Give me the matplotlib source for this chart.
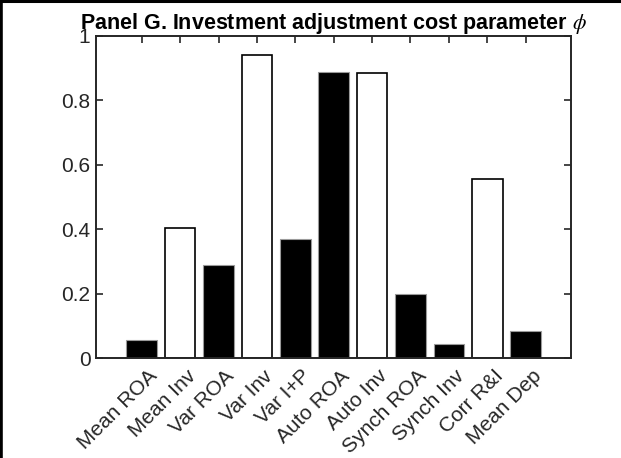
import numpy as np
import matplotlib
matplotlib.use("Agg")
import matplotlib.pyplot as plt
import matplotlib.transforms as mtransforms
from matplotlib.lines import Line2D

plt.rcParams['font.family'] = ['Liberation Sans', 'DejaVu Sans']
plt.rcParams['mathtext.fontset'] = 'stix'

# moments targeted, sensitivity of each to phi
labels = ['Mean ROA', 'Mean Inv', 'Var ROA', 'Var Inv', 'Var I+P', 'Auto ROA',
          'Auto Inv', 'Synch ROA', 'Synch Inv', 'Corr R&I', 'Mean Dep']
values = [0.055, 0.405, 0.289, 0.941, 0.370, 0.887, 0.884, 0.199, 0.043, 0.555, 0.084]
# True = filled (black) bar, False = open bar
filled = [True, False, True, False, True, True, False, True, True, False, True]

axcol = '#262626'
fig = plt.figure(figsize=(6.21, 4.58), dpi=100)
ax = fig.add_axes([0.1546, 0.2183, 0.7649, 0.7031])

x = np.arange(1, len(labels) + 1)
for xi, v, f in zip(x, values, filled):
    if f:
        ax.bar(xi, v, width=0.8, color='black', edgecolor='#9a9a9a', linewidth=0.8, zorder=2)
    else:
        ax.bar(xi, v, width=0.8, color='white', edgecolor='black', linewidth=1.2, zorder=2)

ax.set_xlim(-0.19, 12.18)
ax.set_ylim(0, 1)
ax.set_yticks([0, 0.2, 0.4, 0.6, 0.8, 1])
ax.set_yticklabels(['0', '0.2', '0.4', '0.6', '0.8', '1'])
ax.set_xticks(x)
ax.set_xticklabels(labels, rotation=45, ha='right', va='top', rotation_mode='anchor')

ax.tick_params(axis='both', direction='in', length=5, width=1.2, colors=axcol,
               labelsize=15, top=True, right=True)
ax.tick_params(axis='x', pad=6)
ax.tick_params(axis='y', pad=4)
# nudge the slanted labels to the right
shift = mtransforms.ScaledTranslation(6 / 100, 0, fig.dpi_scale_trans)
for lab in ax.get_xticklabels():
    lab.set_transform(lab.get_transform() + shift)

for s in ax.spines.values():
    s.set_linewidth(1.4)
    s.set_color(axcol)

ax.set_title(r'Panel G. Investment adjustment cost parameter $\phi$',
             fontsize=15.5, fontweight='bold', color='black', pad=5)

# frame lines along the top and left edges of the figure
fig.add_artist(Line2D([0, 1], [0.997, 0.997], transform=fig.transFigure, color='black', lw=2.2))
fig.add_artist(Line2D([0.002, 0.002], [0, 1], transform=fig.transFigure, color='black', lw=2.6))

fig.savefig('out.png', dpi=100)
